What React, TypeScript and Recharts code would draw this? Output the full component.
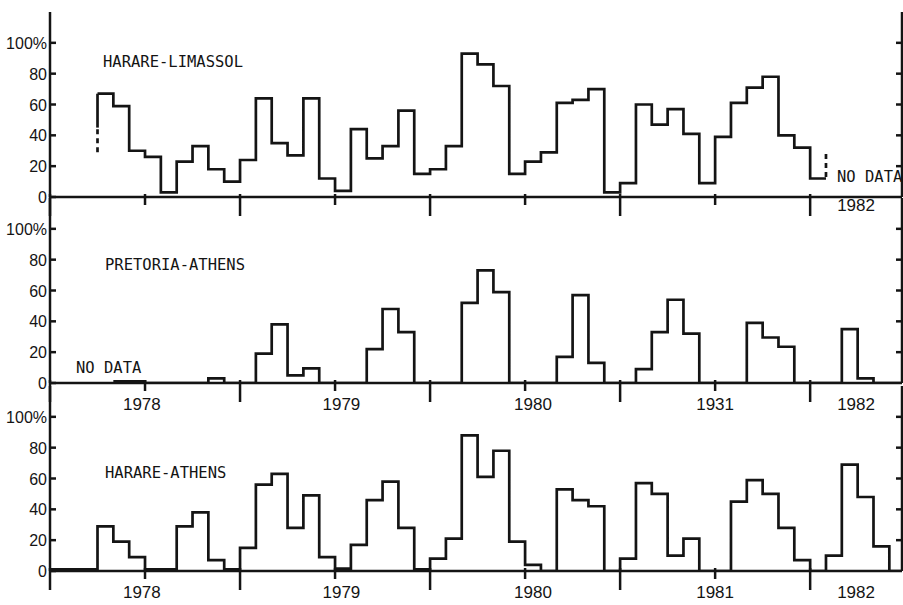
import React from 'react';
import { LineChart, Line, XAxis, YAxis, ReferenceLine } from 'recharts';

// one value per month, Jan 1978 .. Jun 1982 (null = no data)
const harareLimassol = [
  null, null, null, 67, 59, 30, 26, 3, 23, 33, 18, 10,
  24, 64, 35, 27, 64, 12, 4, 44, 25, 33, 56, 15,
  18, 33, 93, 86, 72, 15, 23, 29, 61, 63, 70, 3,
  9, 60, 47, 57, 41, 9, 39, 61, 71, 78, 40, 32,
  12, null, null, null, null, null,
];
const pretoriaAthens = [
  null, null, null, null, 1, 1, 0, 0, 0, 0, 3, 0,
  0, 19, 38, 5, 9.5, 0, 0, 0, 22, 48, 33, 0,
  0, 0, 52, 73, 59, 0, 0, 0, 17, 57, 13, 0,
  0, 9, 33, 54, 32, 0, 0, 0, 39, 29.5, 23.5, 0,
  0, 0, 35, 3, 0, 0,
];
const harareAthens = [
  1, 1, 1, 29, 19, 9, 1, 1, 29, 38, 7, 1,
  15, 56, 63, 28, 49, 9, 1.5, 17, 46, 58, 28, 1,
  8, 21, 88, 61, 78, 19, 4, 0, 53, 46, 42, 0,
  8, 57, 50, 10, 21, 0, 0, 45, 59, 50, 28, 7,
  0, 10, 69, 48, 16, 0,
];

// dashed open ends of the Harare-Limassol record
const limassolStartDash = [29, 45];
const limassolEndDash = [13, 30];

const yearNames = ['1978', '1979', '1980', '1981', '1982'];
const yearNamesMid = ['1978', '1979', '1980', '1931', '1982'];
const yearLabelAt = [5.8, 18.4, 30.5, 42, 50.9];
const monthTicks = [0, 6, 12, 18, 24, 30, 36, 42, 48];
const yTicks = [0, 20, 40, 60, 80, 100];

const INK = '#141414';
const PLOT_TOP = 12;
const PLOT_H = 185;
const AXIS_H = 30;
const X_MAX = 53.8;

const toSteps = (values: (number | null)[]) => {
  const pts: { m: number; v: number }[] = [];
  values.forEach((v, i) => {
    if (v !== null) pts.push({ m: i, v });
  });
  const last = pts[pts.length - 1];
  pts.push({ m: last.m + 1, v: last.v });
  return pts;
};

const firstIndex = (values: (number | null)[]) => values.findIndex((v) => v !== null);
const lastIndex = (values: (number | null)[]) => {
  let k = -1;
  values.forEach((v, i) => { if (v !== null) k = i; });
  return k;
};

const BottomTick = ({ x, y, payload, labels, labelDy }: any) => {
  const v = payload.value;
  const lab = labels.find((l: any) => l.at === v);
  const isMark = monthTicks.includes(v);
  const len = v % 12 === 0 ? 19 : 8;
  return (
    <g>
      {isMark && <line x1={x} x2={x} y1={y - 3} y2={y + len} stroke={INK} strokeWidth={2.5} />}
      {lab && (
        <text x={x} y={y + labelDy} textAnchor="middle" fontFamily="Liberation Sans" fontSize={17} fill={INK}>
          {lab.text}
        </text>
      )}
    </g>
  );
};

const TopTick = ({ x, y }: any) => (
  <line x1={x} x2={x} y1={y - 2} y2={y + 8} stroke={INK} strokeWidth={2.5} />
);

const LeftTick = ({ x, y, payload }: any) => (
  <g>
    <line x1={x} x2={x + 6} y1={y} y2={y} stroke={INK} strokeWidth={2.5} />
    <text x={x - 3} y={y + 6} textAnchor="end" fontFamily="Liberation Sans" fontSize={16} fill={INK}>
      {payload.value === 100 ? '100%' : payload.value}
    </text>
  </g>
);

const RightTick = ({ x, y, payload }: any) =>
  payload.value === 0 ? null : <line x1={x} x2={x - 6} y1={y} y2={y} stroke={INK} strokeWidth={2.5} />;

type PanelProps = {
  values: (number | null)[];
  top: number;
  labels: { at: number; text: string }[];
  labelDy: number;
  border?: boolean;
  children?: React.ReactNode;
};

const Panel = ({ values, top, labels, labelDy, border, children }: PanelProps) => {
  const ticks = Array.from(new Set([...monthTicks, ...labels.map((l) => l.at)])).sort((a, b) => a - b);
  return (
    <div style={{ position: 'absolute', left: 0, top }}>
      <LineChart
        width={903}
        height={PLOT_TOP + PLOT_H + AXIS_H}
        margin={{ top: PLOT_TOP, right: 0, bottom: 0, left: 0 }}
        style={{ overflow: 'visible' }}
      >
        <XAxis
          xAxisId="b"
          dataKey="m"
          type="number"
          domain={[0, X_MAX]}
          allowDataOverflow
          ticks={ticks}
          interval={0}
          height={AXIS_H}
          tickSize={0}
          tickMargin={0}
          tickLine={false}
          axisLine={{ stroke: INK, strokeWidth: 2.5 }}
          tick={(p: any) => <BottomTick {...p} labels={labels} labelDy={labelDy} />}
        />
        {border && (
          <XAxis
            xAxisId="t"
            orientation="top"
            dataKey="m"
            type="number"
            domain={[0, X_MAX]}
            allowDataOverflow
            ticks={monthTicks.slice(1)}
            interval={0}
            height={0}
            tickSize={0}
            tickMargin={0}
            tickLine={false}
            axisLine={{ stroke: INK, strokeWidth: 2.5 }}
            tick={(p: any) => <TopTick {...p} />}
          />
        )}
        <YAxis
          yAxisId="l"
          type="number"
          domain={[0, 120]}
          allowDataOverflow
          ticks={yTicks}
          interval={0}
          width={50}
          tickSize={0}
          tickMargin={0}
          tickLine={false}
          axisLine={{ stroke: INK, strokeWidth: 2.5 }}
          tick={(p: any) => <LeftTick {...p} />}
        />
        <YAxis
          yAxisId="r"
          orientation="right"
          type="number"
          domain={[0, 120]}
          allowDataOverflow
          ticks={yTicks}
          interval={0}
          width={1}
          tickSize={0}
          tickMargin={0}
          tickLine={false}
          axisLine={{ stroke: INK, strokeWidth: 2.5 }}
          tick={(p: any) => <RightTick {...p} />}
        />
        <Line
          xAxisId="b"
          yAxisId="l"
          data={toSteps(values)}
          dataKey="v"
          type="stepAfter"
          stroke={INK}
          strokeWidth={2.7}
          strokeLinejoin="miter"
          dot={false}
          activeDot={false}
          isAnimationActive={false}
        />
        {children}
      </LineChart>
    </div>
  );
};

const titleStyle = {
  fontFamily: 'DejaVu Sans Mono',
  fontSize: 15.5,
  fill: INK,
} as const;

export default function App() {
  const s0 = firstIndex(harareLimassol);
  const e0 = lastIndex(harareLimassol) + 1;
  return (
    <div style={{ position: 'absolute', left: 0, top: 0, width: 903, height: 605, overflow: 'hidden', background: '#fff' }}>
      <Panel values={harareLimassol} top={0} border labels={[{ at: yearLabelAt[4], text: yearNames[4] }]} labelDy={14}>
        <ReferenceLine
          xAxisId="b"
          yAxisId="l"
          segment={[{ x: s0, y: limassolStartDash[0] }, { x: s0, y: limassolStartDash[1] }]}
          stroke={INK}
          strokeWidth={2.7}
          strokeDasharray="5 4"
          ifOverflow="visible"
        />
        <ReferenceLine
          xAxisId="b"
          yAxisId="l"
          segment={[{ x: s0, y: limassolStartDash[1] }, { x: s0, y: harareLimassol[s0] as number }]}
          stroke={INK}
          strokeWidth={2.7}
          ifOverflow="visible"
        />
        <ReferenceLine
          xAxisId="b"
          yAxisId="l"
          segment={[{ x: e0, y: limassolEndDash[0] }, { x: e0, y: limassolEndDash[1] }]}
          stroke={INK}
          strokeWidth={2.7}
          strokeDasharray="5 4"
          ifOverflow="visible"
        />
      </Panel>
      <Panel
        values={pretoriaAthens}
        top={186}
        labels={yearLabelAt.map((at, i) => ({ at, text: yearNamesMid[i] }))}
        labelDy={27}
      />
      <Panel
        values={harareAthens}
        top={374}
        labels={yearLabelAt.map((at, i) => ({ at, text: yearNames[i] }))}
        labelDy={27}
      />
      <svg width={903} height={605} style={{ position: 'absolute', left: 0, top: 0, pointerEvents: 'none' }}>
        <text x={103} y={67} {...titleStyle}>HARARE-LIMASSOL</text>
        <text x={837} y={182} {...titleStyle}>NO DATA</text>
        <text x={105} y={270} {...titleStyle}>PRETORIA-ATHENS</text>
        <text x={76} y={373} {...titleStyle}>NO DATA</text>
        <text x={105} y={478} {...titleStyle}>HARARE-ATHENS</text>
      </svg>
    </div>
  );
}
